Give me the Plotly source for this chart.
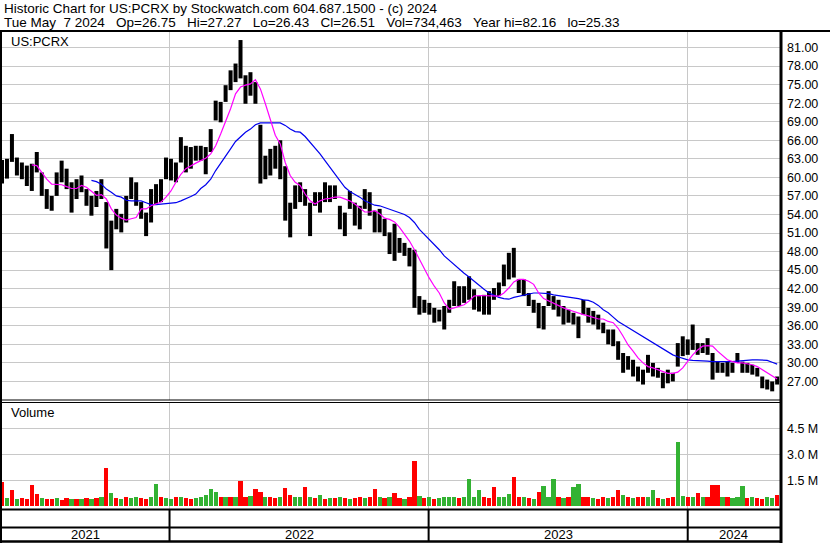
import plotly.graph_objects as go
import pandas as pd

W, H = 830, 543

# ---------------- data (weekly readings) ----------------
week_start = "2021-05-10"
n_weeks = 157
dates = pd.date_range(week_start, periods=n_weeks, freq="7D")

price_hi = [
    62.8, 63.0, 67.0, 63.2, 62.4, 61.9, 62.2, 64.1, 60.8, 58.1,
    57.0, 60.8, 62.7, 61.4, 59.2, 59.7, 60.3, 58.1, 57.0, 57.8,
    59.7, 56.0, 53.0, 54.9, 54.1, 57.0, 60.0, 59.2, 56.0, 54.3,
    58.1, 58.9, 59.7, 63.2, 63.0, 62.4, 66.5, 65.1, 64.9, 65.1,
    65.1, 64.9, 67.8, 72.4, 72.2, 74.9, 77.3, 78.4, 82.2, 76.5,
    77.0, 75.4, 68.5, 63.5, 64.6, 65.1, 66.0, 61.8, 55.9, 58.7,
    59.2, 58.1, 55.9, 57.6, 57.6, 59.2, 58.7, 58.7, 55.4, 54.3,
    57.8, 55.9, 55.4, 58.1, 57.6, 54.6, 54.9, 53.3, 51.1, 52.5,
    50.2, 49.4, 48.6, 48.3, 40.8, 40.2, 39.7, 38.9, 38.6, 39.2,
    40.2, 43.2, 42.4, 42.4, 44.0, 41.9, 40.8, 41.0, 41.6, 42.1,
    43.0, 45.9, 47.8, 48.6, 43.5, 43.5, 41.3, 40.2, 39.7, 39.2,
    41.6, 40.8, 40.2, 39.2, 38.6, 38.1, 37.5, 40.2, 38.9, 38.4,
    37.8, 36.5, 35.4, 35.4, 33.5, 31.6, 31.1, 30.5, 29.4, 28.9,
    31.3, 30.0, 29.2, 28.4, 28.9, 28.4, 33.2, 34.3, 33.8, 36.2,
    33.2, 33.2, 34.0, 31.6, 30.2, 30.0, 30.2, 30.0, 31.6, 30.2,
    30.0, 29.7, 29.2, 27.8, 27.3, 27.0, 27.8,
]
price_lo = [
    59.0, 59.8, 62.5, 60.3, 59.7, 58.6, 57.8, 60.8, 57.0, 54.9,
    54.6, 57.0, 59.2, 58.1, 54.3, 56.5, 57.6, 55.4, 53.8, 55.2,
    56.5, 48.5, 45.0, 51.6, 51.1, 52.7, 56.5, 55.4, 53.3, 50.5,
    52.7, 55.7, 56.0, 59.7, 59.5, 59.2, 62.4, 60.8, 61.4, 62.7,
    62.7, 60.5, 64.1, 69.2, 68.9, 72.2, 74.1, 75.4, 76.0, 71.9,
    73.2, 71.9, 59.0, 59.7, 60.3, 61.4, 59.7, 53.0, 50.3, 54.9,
    56.0, 55.4, 50.5, 55.4, 54.3, 56.0, 56.0, 56.5, 51.6, 50.5,
    54.9, 52.2, 51.6, 54.9, 53.8, 51.1, 51.1, 50.5, 47.6, 46.5,
    47.8, 47.3, 45.6, 38.9, 37.8, 38.1, 37.8, 36.5, 36.7, 35.4,
    38.1, 39.2, 39.2, 39.7, 40.2, 38.6, 38.3, 37.8, 37.8, 40.2,
    40.8, 42.4, 43.5, 43.8, 41.3, 40.8, 39.2, 38.1, 35.6, 35.4,
    39.2, 38.6, 37.5, 36.2, 36.5, 36.2, 34.0, 37.8, 36.5, 36.2,
    35.4, 34.8, 33.0, 32.7, 30.5, 28.4, 28.9, 27.8, 27.0, 26.5,
    28.4, 27.8, 27.6, 25.9, 26.7, 27.0, 29.4, 31.1, 31.3, 32.1,
    31.3, 31.6, 31.3, 27.3, 28.4, 28.4, 27.8, 28.4, 30.0, 28.4,
    28.4, 28.1, 27.8, 25.9, 25.7, 25.4, 26.5,
]

ma_fast = [None] * 6 + [
    62.0, 61.9, 60.8, 59.7, 58.9, 58.8, 58.8, 58.5, 58.2, 58.2,
    58.7, 58.4, 57.7, 57.1, 57.2, 56.5, 54.9, 53.9, 53.4, 53.1,
    53.3, 53.5, 54.9, 54.9, 55.4, 55.7, 56.0, 56.8, 57.8, 59.2,
    60.5, 61.4, 61.9, 62.3, 62.7, 63.1, 63.8, 65.1, 67.0, 68.9,
    71.1, 73.5, 74.6, 74.9, 75.1, 75.8, 74.3, 71.9, 69.2, 66.8,
    65.4, 62.4, 60.3, 59.2, 58.7, 57.3, 56.2, 55.7, 56.2, 56.5,
    56.6, 56.8, 56.8, 56.5, 56.2, 55.7, 55.1, 54.4, 54.4, 54.6,
    54.1, 53.4, 53.2, 52.8, 51.9, 50.8, 49.7, 48.3, 46.7, 45.1,
    43.7, 42.4, 41.3, 39.7, 38.7, 38.9, 39.2, 39.4, 40.0, 40.8,
    40.9, 40.9, 40.9, 40.9, 40.8, 41.3, 42.1, 43.1, 43.5, 43.5,
    43.2, 42.7, 41.3, 40.4, 40.0, 39.6, 39.3, 38.9, 38.6, 38.3,
    38.1, 37.8, 37.6, 37.4, 37.1, 37.1, 36.7, 36.5, 35.6, 34.3,
    32.9, 31.9, 30.8, 30.0, 29.4, 29.2, 28.9, 28.5, 28.3, 28.3,
    28.5, 29.2, 30.3, 31.3, 32.1, 32.7, 32.8, 32.7, 31.9, 31.2,
    30.5, 30.2, 30.0, 30.0, 29.9, 29.7, 29.4, 28.9, 28.4, 27.8,
    27.4,
]

ma_slow = [None] * 18 + [
    59.5, 59.3, 58.9, 58.1, 57.6, 57.0, 56.8, 56.3, 56.2, 56.2,
    56.2, 55.9, 55.6, 55.6, 55.7, 55.8, 55.9, 55.9, 56.2, 56.5,
    56.9, 57.3, 58.2, 58.8, 59.7, 61.1, 62.2, 63.3, 64.6, 65.8,
    66.5, 67.3, 67.8, 68.5, 68.8, 68.8, 68.8, 68.8, 68.8, 68.4,
    67.8, 67.4, 67.3, 66.6, 65.7, 64.8, 63.8, 62.7, 61.6, 60.5,
    59.5, 58.4, 57.7, 57.3, 56.8, 56.2, 55.8, 55.5, 55.4, 55.1,
    54.8, 54.6, 54.3, 54.0, 53.5, 52.7, 51.6, 50.8, 50.0, 49.2,
    48.3, 47.3, 46.6, 45.9, 45.1, 44.5, 43.9, 43.2, 42.5, 41.9,
    41.3, 40.9, 40.6, 40.4, 40.3, 40.6, 40.8, 40.9, 41.2, 41.3,
    41.3, 41.3, 41.2, 41.0, 40.9, 40.8, 40.7, 40.5, 40.4, 40.2,
    40.1, 39.8, 39.3, 38.6, 38.1, 37.4, 36.7, 36.2, 35.7, 35.2,
    34.7, 34.2, 33.8, 33.2, 32.7, 32.3, 31.7, 31.3, 31.0, 30.7,
    30.5, 30.4, 30.4, 30.4, 30.3, 30.2, 30.2, 30.1, 30.1, 30.2,
    30.3, 30.4, 30.4, 30.5, 30.5, 30.5, 30.4, 30.1, 29.8,
]

volume_m = [
    1.38, 0.45, 0.94, 0.40, 0.48, 0.42, 1.23, 0.69, 0.45, 0.40,
    0.42, 0.46, 0.38, 0.48, 0.44, 0.40, 0.44, 0.48, 0.44, 0.50,
    0.55, 2.23, 0.75, 0.48, 0.44, 0.52, 0.48, 0.56, 0.46, 0.44,
    0.56, 1.29, 0.52, 0.48, 0.44, 0.52, 0.56, 0.46, 0.44, 0.48,
    0.52, 0.66, 0.98, 0.82, 0.52, 0.56, 0.52, 0.56, 1.46, 0.56,
    0.60, 1.00, 0.80, 0.56, 0.52, 0.48, 0.52, 1.05, 0.66, 0.52,
    0.56, 1.11, 0.52, 0.48, 0.65, 0.44, 0.48, 0.46, 0.52, 0.48,
    0.44, 0.48, 0.52, 0.48, 0.56, 1.00, 0.52, 0.48, 0.56, 0.79,
    0.48, 0.44, 0.52, 2.60, 0.58, 0.48, 0.52, 0.44, 0.48, 0.56,
    0.52, 0.56, 0.48, 0.52, 1.57, 0.56, 0.94, 0.52, 0.48, 1.13,
    0.52, 0.56, 0.72, 1.71, 0.56, 0.52, 0.48, 0.44, 0.84, 1.19,
    0.56, 1.57, 0.52, 0.48, 0.56, 1.13, 1.29, 0.56, 0.52, 0.48,
    0.44, 0.52, 0.48, 0.56, 0.94, 0.66, 0.52, 0.48, 0.52, 0.56,
    0.52, 0.94, 0.48, 0.44, 0.48, 0.52, 3.73, 0.62, 0.52, 0.56,
    0.75, 0.52, 0.56, 1.23, 1.23, 0.56, 0.52, 0.48, 0.56, 1.19,
    0.48, 0.52, 0.48, 0.44, 0.52, 0.48, 0.65,
]
# g = up week (green), r = down week (red)
vol_dir = (
    "rgrgrrrrgr" "rgrrgrgrgr" "grgrgrggrr" "ggrggrgrrg" "ggggrgrgrr"
    "grrgrrgrrg" "grgrgrgrgr" "grrgrrgrgr" "rgrrgrgrgg" "ggrggggrrr"
    "gggrrgrgrg" "ggrgrggrrg" "rrgrrgrgrr" "ggrgrrggrg" "rgrrrgrggg"
    "rgrrggr"
)

x_range = ["2021-05-10", "2024-05-10"]
year_starts = ["2022-01-01", "2023-01-01", "2024-01-01"]
year_labels = ["2021", "2022", "2023", "2024"]
price_ticks = [27, 30, 33, 36, 39, 42, 45, 48, 51, 54, 57, 60, 63, 66, 69, 72, 75, 78, 81]
vol_ticks = [1.5, 3.0, 4.5]

title_line1 = "Historic Chart for US:PCRX by Stockwatch.com 604.687.1500 - (c) 2024"
title_line2 = "Tue May  7 2024   Op=26.75   Hi=27.27   Lo=26.43   Cl=26.51   Vol=734,463   Year hi=82.16   lo=25.33"

# ---------------- helpers ----------------
def px(x):
    return x / W

def py(y):
    return 1 - y / H

FONT = "Arial, 'Liberation Sans', sans-serif"
GRID = "#c8c8c8"

# ---------------- traces ----------------
bx, by = [], []
for d, h, l in zip(dates, price_hi, price_lo):
    bx += [d, d, None]
    by += [l, h, None]

fig = go.Figure()
fig.add_trace(go.Scatter(x=bx, y=by, mode="lines", line=dict(color="black", width=4.0),
                         xaxis="x", yaxis="y", hoverinfo="skip", showlegend=False))
fig.add_trace(go.Scatter(x=dates, y=ma_slow, mode="lines", line=dict(color="#0000ee", width=1.2),
                         xaxis="x", yaxis="y", showlegend=False))
fig.add_trace(go.Scatter(x=dates, y=ma_fast, mode="lines", line=dict(color="#ff00ff", width=1.2),
                         xaxis="x", yaxis="y", showlegend=False))

vol_colors = ["#33b233" if c == "g" else "#ff0000" for c in vol_dir]
fig.add_trace(go.Bar(x=dates, y=volume_m, marker=dict(color=vol_colors, line=dict(width=0)),
                     width=6.0 * 86400000, xaxis="x2", yaxis="y2", showlegend=False))

# ---------------- layout ----------------
xdom = [px(2), px(780)]
common_x = dict(domain=xdom, range=x_range, type="date", tickvals=year_starts,
                showticklabels=False, showgrid=True, gridcolor=GRID, gridwidth=1,
                ticks="", zeroline=False, showline=False)

fig.update_layout(
    width=W, height=H,
    margin=dict(l=0, r=0, t=0, b=0),
    paper_bgcolor="white", plot_bgcolor="white",
    font=dict(family=FONT, size=13, color="black"),
    bargap=0,
    xaxis=dict(**common_x, anchor="y"),
    xaxis2=dict(**common_x, anchor="y2", matches="x"),
    yaxis=dict(domain=[py(400), py(32)], range=[24.0, 83.5], side="right", anchor="x",
               tickvals=price_ticks, ticktext=[f"{v:.2f}" for v in price_ticks],
               showgrid=True, gridcolor=GRID, gridwidth=1, zeroline=False, ticks="",
               ticklabelstandoff=6, tickfont=dict(size=12.5, family=FONT, color="black")),
    yaxis2=dict(domain=[py(509), py(402)], range=[-0.16, 6.02], side="right", anchor="x2",
                tickvals=vol_ticks, ticktext=[f"{v:.1f} M" for v in vol_ticks],
                showgrid=True, gridcolor=GRID, gridwidth=1, zeroline=False, ticks="",
                ticklabelstandoff=6, tickfont=dict(size=12.5, family=FONT, color="black")),
)

shapes = []
def hline(y, x0, x1, w):
    shapes.append(dict(type="line", xref="paper", yref="paper", x0=px(x0), x1=px(x1),
                       y0=py(y), y1=py(y), line=dict(color="black", width=w)))

def vline(x, y0, y1, w):
    shapes.append(dict(type="line", xref="paper", yref="paper", x0=px(x), x1=px(x),
                       y0=py(y0), y1=py(y1), line=dict(color="black", width=w)))

hline(31, 0, 830, 2)
hline(400, 0, 781, 1.2)
hline(402.5, 0, 781, 1.2)
hline(509.5, 0, 781, 2)
hline(527.5, 0, 781, 2)
hline(541.5, 0, 781, 2.5)
vline(1, 30, 543, 2)
vline(781, 30, 543, 3)
for ys in year_starts:
    shapes.append(dict(type="line", xref="x", yref="paper", x0=ys, x1=ys,
                       y0=py(541), y1=py(509), line=dict(color="black", width=2)))

annotations = []
def text(x, y, s, size=13):
    annotations.append(dict(x=px(x), y=py(y), xref="paper", yref="paper", text=s.replace(" ", "\u00a0"),
                            showarrow=False, xanchor="left", yanchor="middle",
                            font=dict(size=size, family=FONT, color="black")))

text(2, 9, title_line1, 13.5)
text(2, 22.5, title_line2, 13.5)
text(9, 41, "US:PCRX", 13)
text(9, 413, "Volume", 13)

bounds = [pd.Timestamp(x_range[0])] + [pd.Timestamp(s) for s in year_starts] + [pd.Timestamp(x_range[1])]
for lab, a, b in zip(year_labels, bounds[:-1], bounds[1:]):
    mid = a + (b - a) / 2
    annotations.append(dict(x=mid, y=py(534.5), xref="x", yref="paper", text=lab, showarrow=False,
                            xanchor="center", yanchor="middle",
                            font=dict(size=13, family=FONT, color="black")))

fig.update_layout(shapes=shapes, annotations=annotations)
fig.write_html("out.html", config={"displayModeBar": False, "staticPlot": True},
               post_script="document.body.style.margin='0';document.body.style.padding='0';document.body.style.overflow='hidden';")
